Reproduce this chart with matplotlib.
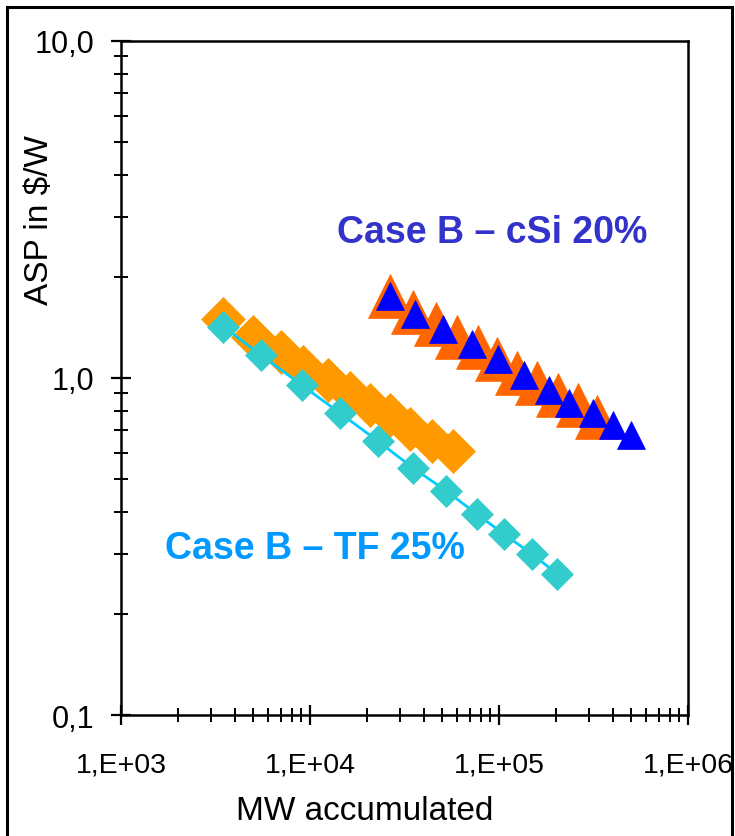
import matplotlib
matplotlib.use("Agg")
import matplotlib.pyplot as plt
from matplotlib.patches import Rectangle
from matplotlib.ticker import FixedLocator, FixedFormatter, LogLocator, NullFormatter

plt.rcParams['font.family'] = ['Liberation Sans', 'DejaVu Sans']

# Thin film, scenario with orange diamonds
tf_a_mw = [3480, 5010, 7020, 9220, 12400, 16300, 20800, 26500, 33800, 44000, 57300]
tf_a_asp = [1.50, 1.326, 1.195, 1.076, 0.986, 0.905, 0.833, 0.777, 0.706, 0.652, 0.609]

# Thin film, Case B (25 %)
tf_b_mw = [3480, 5500, 9040, 14400, 22800, 35200, 52400, 76200, 106300, 150100, 203400]
tf_b_asp = [1.42, 1.17, 0.953, 0.787, 0.651, 0.540, 0.463, 0.395, 0.344, 0.300, 0.262]

# Crystalline silicon, scenario with orange triangles
csi_a_mw = [26500, 35200, 46400, 59700, 77700, 97200, 124100, 158300, 206000, 262800, 331300]
csi_a_asp = [1.749, 1.575, 1.446, 1.323, 1.233, 1.137, 1.037, 0.968, 0.890, 0.832, 0.765]

# Crystalline silicon, Case B (20 %)
csi_b_mw = [26500, 35900, 50700, 71700, 99200, 136100, 184600, 235500, 313200, 399600, 497800]
csi_b_asp = [1.747, 1.545, 1.395, 1.259, 1.137, 1.021, 0.923, 0.845, 0.789, 0.724, 0.676]

x_ticks = [1e3, 1e4, 1e5, 1e6]
x_tick_labels = ["1,E+03", "1,E+04", "1,E+05", "1,E+06"]
y_ticks = [0.1, 1.0, 10.0]
y_tick_labels = ["0,1", "1,0", "10,0"]

W, H = 735, 837
fig = plt.figure(figsize=(W / 100, H / 100), dpi=100)
ax = fig.add_axes([121 / W, 1 - 716 / H, (688 - 121) / W, (716 - 42) / H])

ax.plot(tf_a_mw, tf_a_asp, linestyle='none', marker='D', markersize=22,
        markerfacecolor='#FF9900', markeredgecolor='#FF9900', markeredgewidth=0.5, zorder=2)
ax.plot(tf_b_mw, tf_b_asp, linestyle='-', color='#00CCFF', linewidth=2.0,
        marker='D', markersize=16.5, markerfacecolor='#33CCCC',
        markeredgecolor='#33CCCC', markeredgewidth=0.5, zorder=3)
ax.plot(csi_a_mw, csi_a_asp, linestyle='none', marker='^', markersize=32,
        markerfacecolor='#FF6600', markeredgecolor='#FF6600', markeredgewidth=0.5, zorder=2)
ax.plot(csi_b_mw, csi_b_asp, linestyle='none', marker='^', markersize=20,
        markerfacecolor='#0000FF', markeredgecolor='#0000FF', markeredgewidth=0.5, zorder=4)

ax.set_xscale('log')
ax.set_yscale('log')
ax.set_xlim(1e3, 1e6)
ax.set_ylim(0.1, 10)

ax.xaxis.set_major_locator(FixedLocator(x_ticks))
ax.xaxis.set_major_formatter(FixedFormatter(x_tick_labels))
ax.yaxis.set_major_locator(FixedLocator(y_ticks))
ax.yaxis.set_major_formatter(FixedFormatter(y_tick_labels))
ax.xaxis.set_minor_locator(LogLocator(base=10, subs=range(2, 10)))
ax.yaxis.set_minor_locator(LogLocator(base=10, subs=range(2, 10)))
ax.xaxis.set_minor_formatter(NullFormatter())
ax.yaxis.set_minor_formatter(NullFormatter())

ax.tick_params(which='major', direction='inout', length=14, width=1.6,
               colors='black')
ax.tick_params(which='minor', direction='inout', length=10, width=1.4)
ax.tick_params(axis='x', which='both', top=False)
ax.tick_params(axis='y', which='both', right=False)
ax.tick_params(axis='x', which='major', pad=19, labelsize=20.5)
ax.tick_params(axis='y', which='major', pad=12, labelsize=22)

for side in ['left', 'bottom', 'top', 'right']:
    ax.spines[side].set_linewidth(1.8)
    ax.spines[side].set_color('black')

fig.text(40 / W, 1 - 220 / H, "ASP in $/W", rotation=90, fontsize=24,
         ha='center', va='center')
fig.text(365 / W, 1 - 812 / H, "MW accumulated", fontsize=24,
         ha='center', va='center')

fig.text(337 / W, 1 - 233 / H, "Case B \u2013 cSi 20%", fontsize=27,
         fontweight='bold', color='#3333CC', ha='left', va='center')
fig.text(165 / W, 1 - 549 / H, "Case B \u2013 TF 25%", fontsize=27,
         fontweight='bold', color='#0099FF', ha='left', va='center')

fig.add_artist(Rectangle((7 / W, -0.05), (732 - 7) / W, 1.05 - 8 / H,
                         transform=fig.transFigure, fill=False,
                         edgecolor='black', linewidth=2.2))

fig.savefig("out.png", dpi=100)
